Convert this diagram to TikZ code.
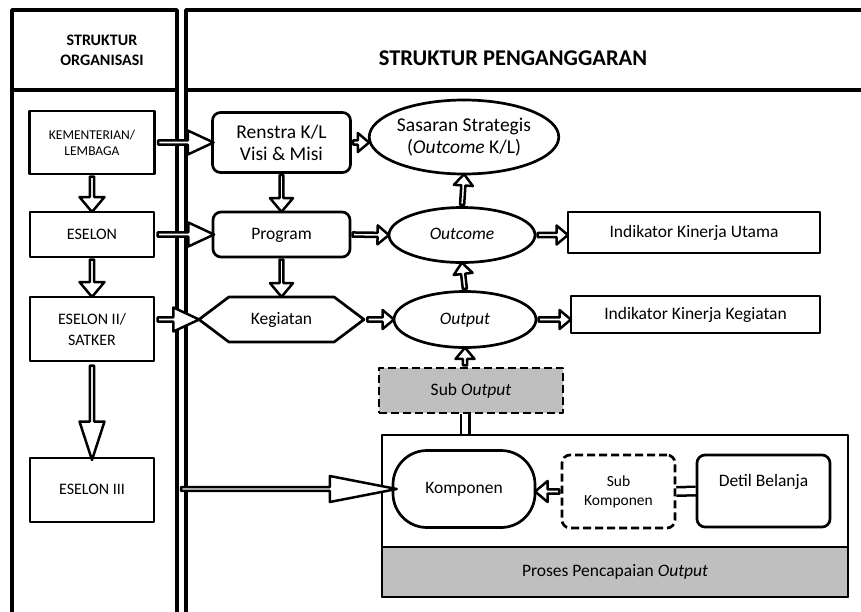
\documentclass[tikz,border=0pt]{standalone}
\usepackage{fontspec}
\setmainfont{Carlito}
\usetikzlibrary{shapes.geometric,shapes.arrows,shapes.symbols,calc}
\definecolor{boxgray}{RGB}{191,191,191}
% block arrow from #2 to #3
\newcommand{\barrow}[3][]{%
  \path let \p1=($(#3)-(#2)$), \n1={veclen(\x1,\y1)} in
    (#2) -- (#3) node[midway, sloped, allow upside down, barr, minimum height=\n1, #1] {};}

\begin{document}
\begin{tikzpicture}[x=1pt,y=-1pt,line join=round,font=\fontsize{17.5}{20}\selectfont]
    \tikzstyle{panel}=[line width=3.5pt]
    \tikzstyle{box}=[draw, line width=2.7pt, inner sep=2pt, align=center]
    \tikzstyle{one}=[text height=12pt, text depth=3pt]
    \tikzstyle{rbox}=[box, rounded corners=8pt]
    \tikzstyle{oval}=[box, ellipse, inner sep=0pt]
    \tikzstyle{dbox}=[box, dash pattern=on 8pt off 4pt]
    \tikzstyle{barr}=[single arrow, draw, line width=2.5pt, fill=white, inner sep=0pt,
        minimum width=24pt, single arrow head extend=5.5pt, single arrow tip angle=50]
    \tikzstyle{sarr}=[minimum width=19pt, single arrow head extend=4.5pt, single arrow tip angle=80]
    \tikzstyle{varr}=[minimum width=25pt, single arrow head extend=6pt, single arrow tip angle=80]
    \tikzstyle{shaft}=[double, double distance=6pt, line width=2.5pt]
    \useasboundingbox (0,0) rectangle (861,611);

    % kolom
    \draw[panel] (12,10) rectangle (177,640);
    \draw[panel] (12,90) -- (177,90);
    \draw[panel] (186,10) rectangle (880,640);
    \draw[panel] (186,90) -- (880,90);
    \node[font=\fontsize{16}{20}\selectfont\bfseries, align=center] (horg) at (102,50) {STRUKTUR\\ORGANISASI};
    \node[font=\fontsize{22.5}{26}\selectfont\bfseries] (hang) at (513,58) {STRUKTUR PENGANGGARAN};

    % struktur organisasi
    \node[box, minimum width=125pt, minimum height=63pt, font=\fontsize{13.5}{16}\selectfont] (kl) at (92,142.5) {KEMENTERIAN/\\LEMBAGA};
    \node[box, one, minimum width=124pt, minimum height=45pt, font=\fontsize{16}{19}\selectfont] (es1) at (92,234.5) {ESELON};
    \node[box, minimum width=124pt, minimum height=64pt, font=\fontsize{16}{21}\selectfont] (es2) at (92,329) {ESELON II/\\SATKER};
    \node[box, one, minimum width=124pt, minimum height=64pt, font=\fontsize{16}{19}\selectfont] (es3) at (92,490) {ESELON III};

    % struktur penganggaran
    \node[rbox, minimum width=138pt, minimum height=60pt, font=\fontsize{19.5}{22}\selectfont] (renstra) at (281.5,142.5) {Renstra K/L\\Visi \& Misi};
    \node[rbox, one, minimum width=137pt, minimum height=45pt] (prog) at (281.5,234.5) {Program};
    \node[box, one, signal, signal to=west and east, signal pointer angle=74,
        minimum width=165pt, minimum height=45pt] (keg) at (281.5,319.5) {Kegiatan};
    \node[oval, minimum width=178pt, minimum height=74pt, font=\fontsize{19.5}{22}\selectfont] (sas) at (464,137) {Sasaran Strategis\\(\textit{Outcome} K/L)};
    \node[oval, one, minimum width=146pt, minimum height=55pt] (outc) at (462,235) {\textit{Outcome}};
    \node[oval, one, minimum width=142pt, minimum height=56pt] (outp) at (465,319.5) {\textit{Output}};
    \node[dbox, one, fill=boxgray, minimum width=184pt, minimum height=45pt] (subout) at (471,390.5) {Sub \textit{Output}};
    \node[box, one, minimum width=252pt, minimum height=41pt] (iku) at (694,232.5) {Indikator Kinerja Utama};
    \node[box, one, minimum width=249pt, minimum height=37pt] (ikk) at (695.5,314.5) {Indikator Kinerja Kegiatan};

    % proses pencapaian output
    \node[box, minimum width=466pt, minimum height=162pt] (proses) at (615,516) {};
    \node[box, one, fill=boxgray, minimum width=466pt, minimum height=50pt] (capai) at (615,572) {Proses Pencapaian \textit{Output}};
    \node[box, one, rounded corners=34pt, minimum width=142pt, minimum height=77pt] (komp) at (464,489) {Komponen};
    \node[dbox, rounded corners=8pt, minimum width=113pt, minimum height=73pt, font=\fontsize{15.5}{19}\selectfont] (subkomp) at (618.5,491.5) {Sub\\Komponen};
    \node[rbox, minimum width=133pt, minimum height=72pt, text height=11pt, text depth=20pt] (detil) at (763.5,491) {Detil Belanja};

    % titik bantu
    \coordinate (es2r) at (es2.east |- keg.west);
    \coordinate (sasl) at (sas.west |- renstra.east);
    \coordinate (ikul) at (iku.west |- outc.east);
    \coordinate (ikkl) at (ikk.west |- outp.east);
    \coordinate (soup) at (outp.south |- subout.north);
    \coordinate (sodn) at (outp.south |- subout.south);
    \coordinate (prup) at (outp.south |- proses.north);
    \coordinate (kompr) at (komp.east |- subkomp.west);
    \coordinate (es3r) at (176,489);

    % panah
    \barrow{kl.east}{renstra.west}
    \barrow{es1.east}{prog.west}
    \barrow{es2r}{keg.west}
    \barrow[varr]{kl.south}{es1.north}
    \barrow[varr]{es1.south}{es2.north}
    \barrow[minimum width=25pt, single arrow head extend=6pt, single arrow tip angle=36]{es2.south}{es3.north}
    \barrow[varr, minimum width=23pt]{renstra.south}{prog.north}
    \barrow[varr, minimum width=23pt]{prog.south}{keg.north}
    \barrow[sarr]{renstra.east}{sasl}
    \barrow[sarr]{prog.east}{outc.west}
    \barrow[sarr]{keg.east}{outp.west}
    \barrow[sarr]{outc.north}{sas.south}
    \barrow[sarr]{outp.north}{outc.south}
    \barrow[sarr]{soup}{outp.south}
    \barrow[sarr]{outc.east}{ikul}
    \barrow[sarr]{outp.east}{ikkl}
    \barrow[varr, minimum width=21pt, single arrow head extend=5pt]{subkomp.west}{kompr}
    \barrow[minimum width=26pt, single arrow head extend=7pt, single arrow tip angle=22]{es3r}{komp.west}
    \draw[shaft] (prup) -- (sodn);
    \draw[shaft] (detil.west) -- (subkomp.east);
\end{tikzpicture}
\end{document}
